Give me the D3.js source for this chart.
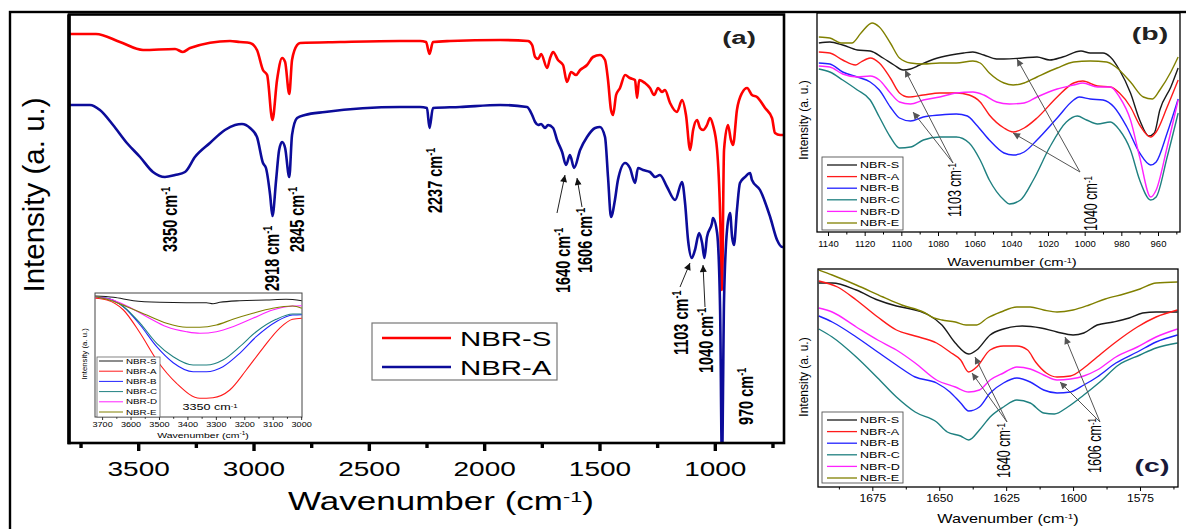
<!DOCTYPE html>
<html>
<head>
<meta charset="utf-8">
<script src="https://cdnjs.cloudflare.com/ajax/libs/d3/7.8.5/d3.min.js"></script>
<style>
  body { margin: 0; background: #fff; }
  svg { display: block; }
  text { font-family: "Liberation Sans", Arial, sans-serif; }
</style>
</head>
<body>
<script>
// ---------- data: [wavenumber, intensity (a.u.)] ----------
// panel (a) full spectra
const specS = [[3800,409],[3683,409],[3579,401],[3479,393],[3340,394],[3306,391],[3275,395],[3102,402],[3059,401],[3015,400],[2985,393],[2959,373],[2941,368],[2918,323],[2898,363],[2876,385],[2863,381],[2845,349],[2833,383],[2811,398],[2798,400],[2625,401],[2365,402],[2278,402],[2252,401],[2237,389],[2222,401],[2148,402],[1931,403],[1810,402],[1792,398],[1779,386],[1766,384],[1753,389],[1727,375],[1714,385],[1701,391],[1680,383],[1658,378],[1641,361],[1623,371],[1602,368],[1584,373],[1554,378],[1528,386],[1498,388],[1476,383],[1463,363],[1450,333],[1441,328],[1428,348],[1411,355],[1389,368],[1368,365],[1346,363],[1337,345],[1328,363],[1303,360],[1281,355],[1263,348],[1246,355],[1229,351],[1216,353],[1194,340],[1164,331],[1142,343],[1125,328],[1107,293],[1094,313],[1077,323],[1064,315],[1051,313],[1034,318],[1021,325],[1008,318],[990,293],[977,230],[969,153],[960,293],[943,318],[930,303],[921,298],[904,333],[882,350],[860,355],[839,348],[817,346],[782,335],[752,325],[739,310],[717,308],[700,308]];
const specA = [[3800,338],[3709,338],[3666,333],[3609,318],[3549,300],[3492,286],[3436,271],[3384,266],[3340,268],[3297,271],[3254,286],[3189,300],[3124,313],[3080,318],[3050,319],[3015,315],[2985,306],[2959,280],[2946,275],[2928,248],[2918,227],[2902,263],[2889,293],[2876,301],[2863,295],[2845,266],[2833,308],[2811,325],[2777,328],[2690,331],[2365,336],[2278,336],[2248,335],[2237,315],[2222,335],[2105,336],[1931,338],[1814,336],[1792,328],[1779,321],[1766,318],[1753,319],[1736,315],[1723,318],[1701,315],[1684,303],[1662,291],[1645,278],[1628,288],[1610,275],[1584,293],[1554,306],[1519,315],[1498,316],[1476,306],[1463,266],[1450,226],[1433,243],[1420,263],[1389,280],[1368,275],[1346,260],[1333,275],[1311,273],[1281,271],[1259,266],[1238,268],[1207,256],[1172,243],[1142,261],[1129,240],[1116,203],[1100,185],[1086,193],[1068,210],[1055,200],[1045,185],[1034,206],[1012,220],[1008,225],[990,210],[977,133],[969,-20],[960,143],[947,213],[934,230],[925,206],[917,198],[904,233],[891,260],[869,266],[847,270],[839,263],[804,253],[760,226],[730,203],[708,196],[700,196]];
const mainNames = ["NBR-S", "NBR-A"];
const mainMajor = [3500, 3000, 2500, 2000, 1500, 1000];
const mainMinor = [3750, 3250, 2750, 2250, 1750, 1250, 750];
const peakLabels = ["3350", "2918", "2845", "2237", "1640", "1606", "1103", "1040", "970"];
const peakAt = [3350, 2918, 2845, 2237, 1640, 1606, 1103, 1040, 970];

// inset of (a): O-H region
const seriesNames = ["NBR-S", "NBR-A", "NBR-B", "NBR-C", "NBR-D", "NBR-E"];
const insS = [[3724,121],[3660,119.7],[3590,116.3],[3497,114.7],[3403,114.3],[3333,114.3],[3310,113.3],[3286,114.7],[3216,116.3],[3123,117],[3053,117.7],[2998,116.3]];
const insA = [[3724,118.7],[3683,117],[3625,107],[3566,83.7],[3508,57],[3438,33.7],[3356,18.7],[3310,19.3],[3251,27],[3193,47],[3135,68.7],[3076,88.7],[3030,97.7],[2998,98.7]];
const insB = [[3724,119.7],[3683,118.7],[3625,110.3],[3566,92],[3508,70.3],[3450,54.3],[3380,45.3],[3333,45.3],[3275,50.3],[3216,63.7],[3158,80.3],[3088,95.3],[3030,102],[2998,102.3]];
const insC = [[3724,119.7],[3683,118.7],[3625,110.3],[3566,93.7],[3508,73.7],[3450,60.3],[3380,52],[3333,52],[3275,57],[3216,70.3],[3158,85.3],[3088,97.7],[3030,103],[2998,103]];
const insD = [[3724,119.7],[3671,117.7],[3613,111],[3543,100.3],[3473,90.3],[3403,85.3],[3356,83.7],[3298,85.3],[3240,90.3],[3170,98.7],[3100,107],[3030,111],[2998,111.3]];
const insE = [[3724,120.3],[3683,117.7],[3613,110.3],[3543,102],[3473,93.7],[3403,89.7],[3356,89.7],[3298,92],[3240,97.7],[3170,103.7],[3100,108.7],[3030,111],[2998,108.7]];
const insTicks = [3700, 3600, 3500, 3400, 3300, 3200, 3100, 3000];

// panel (b): 1150-950 region
const bS = [[1145,189],[1139,190],[1132,187],[1124,182],[1117,181],[1110,174],[1104,167],[1099,162],[1095,163],[1090,167],[1082,173],[1073,177],[1066,179],[1061,180],[1055,177],[1048,173],[1044,173],[1034,174],[1026,175],[1019,172],[1012,175],[1002,181],[997,179],[990,179],[986,175],[981,162],[975,139],[970,112],[965,96],[962,99],[959,122],[953,145],[949,164]];
const bA = [[1145,180],[1139,179],[1132,172],[1125,167],[1122,170],[1117,174],[1112,169],[1106,154],[1101,139],[1096,135],[1088,137],[1079,139],[1070,139],[1063,137],[1057,130],[1052,117],[1044,104],[1039,100],[1033,104],[1026,114],[1015,135],[1006,149],[1001,151],[993,146],[986,145],[981,139],[975,125],[970,107],[964,95],[961,100],[955,125],[949,152]];
const bB = [[1145,169],[1139,168],[1132,160],[1124,155],[1117,150],[1112,142],[1106,125],[1101,114],[1095,111],[1088,115],[1079,117],[1070,118],[1064,116],[1059,107],[1052,92],[1044,79],[1039,77],[1033,80],[1026,92],[1015,114],[1006,132],[1003,135],[997,133],[990,132],[984,125],[977,105],[970,79],[964,67],[961,70],[955,99],[949,133]];
const bC = [[1145,163],[1139,160],[1132,152],[1124,142],[1117,132],[1112,115],[1106,95],[1101,84],[1095,85],[1088,92],[1079,95],[1070,95],[1063,89],[1057,72],[1052,52],[1044,32],[1041,28],[1035,32],[1028,52],[1019,85],[1010,110],[1004,116],[999,112],[993,108],[986,110],[981,102],[975,82],[970,52],[964,32],[961,35],[955,75],[949,119]];
const bD = [[1145,166],[1139,165],[1132,158],[1124,155],[1117,156],[1112,152],[1106,139],[1101,130],[1095,128],[1088,132],[1079,135],[1070,139],[1061,140],[1055,137],[1048,130],[1041,128],[1033,129],[1026,135],[1015,143],[1006,147],[1001,149],[993,145],[986,145],[981,135],[975,112],[970,75],[964,35],[961,42],[955,85],[949,132]];
const bE = [[1145,195],[1139,194],[1133,189],[1127,189],[1122,199],[1116,209],[1112,205],[1106,189],[1101,174],[1095,169],[1088,168],[1079,169],[1070,169],[1061,171],[1057,169],[1052,159],[1044,149],[1039,147],[1033,149],[1026,155],[1015,164],[1006,170],[997,171],[988,170],[983,165],[975,150],[968,135],[963,133],[959,142],[953,160],[949,175]];
const bMajor = [1140, 1120, 1100, 1080, 1060, 1040, 1020, 1000, 980, 960];
const bMinor = [1130, 1110, 1090, 1070, 1050, 1030, 1010, 990, 970, 950];

// panel (c): 1695-1560 region
const cS = [[1695,204],[1690,204],[1681,197],[1673,187],[1666,181],[1659,177],[1654,172],[1649,162],[1644,144],[1639,133],[1636,137],[1631,152],[1626,158],[1619,161],[1612,159],[1606,155],[1600,152],[1596,154],[1591,162],[1585,165],[1579,169],[1574,174],[1569,175],[1561,175]];
const cA = [[1695,206],[1688,200],[1681,187],[1673,170],[1666,157],[1659,151],[1651,144],[1646,135],[1642,127],[1639,115],[1636,120],[1631,137],[1626,141],[1621,141],[1617,137],[1614,125],[1610,114],[1606,110],[1601,111],[1596,119],[1591,130],[1584,145],[1576,160],[1569,170],[1561,177]];
const cB = [[1695,171],[1690,165],[1681,150],[1673,135],[1666,122],[1659,110],[1651,104],[1646,95],[1642,84],[1639,76],[1635,80],[1631,94],[1626,104],[1621,109],[1616,105],[1611,97],[1606,94],[1601,95],[1596,102],[1591,110],[1584,124],[1576,135],[1569,145],[1561,152]];
const cC = [[1695,158],[1690,150],[1681,130],[1673,109],[1666,90],[1659,75],[1651,65],[1647,55],[1642,51],[1639,47],[1635,57],[1631,70],[1626,80],[1621,87],[1616,84],[1611,74],[1607,73],[1602,80],[1596,92],[1590,105],[1583,122],[1575,132],[1569,139],[1561,144]];
const cD = [[1695,179],[1690,175],[1681,160],[1673,147],[1666,137],[1659,124],[1651,107],[1644,100],[1639,95],[1635,97],[1631,107],[1626,114],[1621,120],[1616,118],[1611,112],[1606,107],[1601,108],[1596,111],[1591,117],[1584,130],[1576,140],[1569,150],[1561,158]];
const cE = [[1695,217],[1690,212],[1681,202],[1671,190],[1664,182],[1656,175],[1652,169],[1649,167],[1644,165],[1640,162],[1636,162],[1632,169],[1627,175],[1621,180],[1616,180],[1611,177],[1606,175],[1600,177],[1594,182],[1588,188],[1581,193],[1575,198],[1569,204],[1561,205]];
const cMajor = [1675, 1650, 1625, 1600, 1575];
const cMinor = [1687.5, 1662.5, 1637.5, 1612.5, 1587.5, 1562.5];

// ---------- layout ----------
const W = 1186, H = 529;
const S = 1.4;            // panel (a) of the source figure is stretched horizontally
const colors6 = ["#1a1a1a", "#ff1a1a", "#2222ff", "#1f8080", "#ff22ff", "#808000"];

const svg = d3.select("body").append("svg").attr("width", W).attr("height", H);
const defs = svg.append("defs");

function marker(id, color) {
  defs.append("marker").attr("id", id)
    .attr("viewBox", "0 0 10 10").attr("refX", 10).attr("refY", 5)
    .attr("markerUnits", "userSpaceOnUse")
    .attr("markerWidth", 8).attr("markerHeight", 7).attr("orient", "auto")
    .append("path").attr("d", "M0,0 L10,5 L0,10 z").attr("fill", color);
}
marker("ahk", "#111");
marker("ahg", "#555");

function clip(id, x0, y0, x1, y1) {
  defs.append("clipPath").attr("id", id).append("rect")
    .attr("x", x0).attr("y", y0).attr("width", x1 - x0).attr("height", y1 - y0);
}

// text helper: "|" toggles superscript parts
function label(g, x, y, str, o = {}) {
  const sx = o.sx ?? 1, rot = o.rot ?? 0;
  const t = g.append("text")
    .attr("transform", `translate(${x},${y}) scale(${sx},1)` + (rot ? ` rotate(${rot})` : ""))
    .attr("font-size", o.size || 12)
    .attr("text-anchor", o.anchor || "start")
    .attr("font-weight", o.weight || "normal")
    .attr("fill", o.fill || "#000");
  if (o.family) t.attr("font-family", o.family);
  if (o.dy) t.attr("dy", o.dy);
  str.split("|").forEach((s, i) => {
    const sp = t.append("tspan").text(s);
    if (i % 2) sp.attr("font-size", "62%").attr("baseline-shift", "super");
  });
  return t;
}

function arrow(g, x1, y1, x2, y2, color, mk) {
  g.append("line").attr("x1", x1).attr("y1", y1).attr("x2", x2).attr("y2", y2)
    .attr("stroke", color).attr("stroke-width", 1).attr("marker-end", `url(#${mk})`);
}

function ticks(g, x, y0, vals, len, opt) {
  const ax = d3.axisBottom(x).tickValues(vals).tickSizeInner(len).tickSizeOuter(0)
    .tickPadding(opt.pad || 3).tickFormat(opt.label ? d3.format("d") : "");
  const a = g.append("g").attr("transform", `translate(0,${y0})`).call(ax)
    .attr("font-family", null).attr("font-size", opt.size || 10);
  a.select(".domain").remove();
  a.selectAll(".tick line").attr("stroke", "#000").attr("stroke-width", opt.sw || 1);
  a.selectAll(".tick text").attr("fill", "#000").attr("transform", `scale(${opt.sx || 1},1)`);
  return a;
}

function spectra(g, x, y, list, cols, sw, clipId) {
  const line = d3.line().x(d => x(d[0])).y(d => y(d[1])).curve(d3.curveMonotoneX);
  const gg = g.append("g").attr("clip-path", `url(#${clipId})`);
  list.forEach((s, i) => {
    gg.append("path").datum(s).attr("d", line).attr("fill", "none")
      .attr("stroke", cols[i]).attr("stroke-width", sw).attr("stroke-linejoin", "round");
  });
}

// outer frame
svg.append("rect").attr("x", 10).attr("y", 12).attr("width", W).attr("height", H)
  .attr("fill", "none").attr("stroke", "#000").attr("stroke-width", 2.4);

// ================= panel (a) =================
const A = { l: 69, r: 784, t: 14.5, b: 443 };
const ga = svg.append("g");
const xa = d3.scaleLinear().domain([3800, 700]).range([A.l, A.r]);
const ya = d3.scaleLinear().domain([0, 428.5]).range([A.b, A.t]);
clip("clipA", A.l, A.t, A.r, A.b);

spectra(ga, xa, ya, [specS, specA], ["#ff0000", "#0c0c9a"], 2.6, "clipA");

ga.append("rect").attr("x", A.l).attr("y", A.t).attr("width", A.r - A.l).attr("height", A.b - A.t)
  .attr("fill", "none").attr("stroke", "#000").attr("stroke-width", 2.6);
ga.append("line").attr("x1", A.l).attr("x2", A.l).attr("y1", A.t).attr("y2", A.b + 1.3)
  .attr("stroke", "#000").attr("stroke-width", 3.6);

ticks(ga, xa, A.b, mainMinor, 5, { sw: 3.4 });
ticks(ga, xa, A.b, mainMajor, 8, { label: true, size: 20, sx: S, pad: 11, sw: 3.4 });

label(ga, 441, 510, "Wavenumber (cm|-1|)", { size: 25, sx: S, anchor: "middle" });
label(svg, 44, 195, "Intensity (a. u.)", { size: 29.5, rot: -90, anchor: "middle" });
label(ga, 739, 44, "(a)", { size: 19, sx: 1.45, anchor: "middle", weight: "bold",
  family: '"Liberation Serif","Times New Roman",serif', fill: "#222" });

// peak annotations
const peakPos = [[-3, 252], [-1, 291], [8, 252], [5.5, 213], [-4, 293], [10, 273], [-10, 355], [0, 373], [24, 425]];
peakLabels.forEach((p, i) => {
  label(ga, xa(peakAt[i]) + peakPos[i][0], peakPos[i][1], `${p} cm|-1`,
    { size: 14.5, sx: S, rot: -90, weight: "bold", dy: "0.35em" });
});
[[557, 213, 565, 175], [582, 207, 577, 178], [680, 287, 690, 263], [705, 307, 703, 265]]
  .forEach(a => arrow(ga, a[0], a[1], a[2], a[3], "#222", "ahk"));

// legend (a)
const lg = ga.append("g");
lg.append("rect").attr("x", 372).attr("y", 323).attr("width", 185).attr("height", 57)
  .attr("fill", "#fff").attr("stroke", "#777").attr("stroke-width", 1.2);
mainNames.forEach((n, i) => {
  const yy = 338 + i * 29;
  lg.append("line").attr("x1", 382).attr("x2", 451).attr("y1", yy).attr("y2", yy)
    .attr("stroke", i ? "#0c0c9a" : "#ff0000").attr("stroke-width", 2.4);
  label(lg, 460, yy + 8, n, { size: 21, sx: S });
});

// inset
const I = { l: 95, r: 302, t: 293, b: 417 };
const gi = svg.append("g");
const xi = d3.scaleLinear().domain([3725, 2997]).range([I.l, I.r]);
const yi = d3.scaleLinear().domain([0, 124]).range([I.b, I.t]);
clip("clipI", I.l, I.t, I.r, I.b);
gi.append("rect").attr("x", I.l).attr("y", I.t).attr("width", I.r - I.l).attr("height", I.b - I.t)
  .attr("fill", "#fff").attr("stroke", "#444").attr("stroke-width", 1);
spectra(gi, xi, yi, [insS, insA, insB, insC, insD, insE], colors6, 1.1, "clipI");
ticks(gi, xi, I.b, d3.range(3650, 2990, -100), 1.8, { sw: 0.8 });
ticks(gi, xi, I.b, insTicks, 3, { label: true, size: 6.5, sx: S, pad: 2.5, sw: 0.8 });
label(gi, 203, 437.5, "Wavenumber (cm|-1|)", { size: 7.5, sx: S, anchor: "middle" });
label(gi, 87, 354, "Intensity (a. u.)", { size: 7.8, rot: -90, anchor: "middle" });
label(gi, 210, 410, "3350 cm|-1", { size: 9, sx: S, anchor: "middle" });
const il = gi.append("g");
il.append("rect").attr("x", 97).attr("y", 357).attr("width", 63).attr("height", 60)
  .attr("fill", "#fff").attr("stroke", "#666").attr("stroke-width", 0.8);
seriesNames.forEach((n, i) => {
  const yy = 361 + i * 10.2;
  il.append("line").attr("x1", 99).attr("x2", 123).attr("y1", yy).attr("y2", yy)
    .attr("stroke", colors6[i]).attr("stroke-width", 1);
  label(il, 126, yy + 2.5, n, { size: 7, sx: S });
});

// ================= panel (b) =================
const B = { l: 817, r: 1180, t: 13, b: 232 };
const gb = svg.append("g");
const xb = d3.scaleLinear().domain([1146, 948]).range([B.l, B.r]);
const yb = d3.scaleLinear().domain([0, 219]).range([B.b, B.t]);
clip("clipB", B.l, B.t, B.r, B.b);
spectra(gb, xb, yb, [bS, bA, bB, bC, bD, bE], colors6, 1.4, "clipB");
gb.append("rect").attr("x", B.l).attr("y", B.t).attr("width", B.r - B.l).attr("height", B.b - B.t)
  .attr("fill", "none").attr("stroke", "#000").attr("stroke-width", 1.3);
ticks(gb, xb, B.b, bMinor, 2.5, {});
ticks(gb, xb, B.b, bMajor, 4, { label: true, size: 9.5, pad: 4 });
label(gb, 1012, 266, "Wavenumber (cm|-1|)", { size: 11, sx: 1.35, anchor: "middle" });
label(gb, 807.5, 120, "Intensity (a. u.)", { size: 12, rot: -90, anchor: "middle" });
label(gb, 1150, 40, "(b)", { size: 19, sx: 1.5, anchor: "middle", weight: "bold",
  family: '"Liberation Serif","Times New Roman",serif', fill: "#222" });
label(gb, 955, 217, "1103 cm|-1", { size: 12.5, sx: 1.45, rot: -90, dy: "0.35em" });
label(gb, 1091, 231, "1040 cm|-1", { size: 12.5, sx: 1.45, rot: -90, dy: "0.35em" });
[[953, 163, 905, 70], [953, 163, 913, 112], [1080, 172, 1017, 59], [1080, 172, 1013, 133]]
  .forEach(a => arrow(gb, a[0], a[1], a[2], a[3], "#555", "ahg"));

function smallLegend(g, x0, y0, h) {
  g.append("rect").attr("x", x0).attr("y", y0).attr("width", 81).attr("height", h)
    .attr("fill", "#fff").attr("stroke", "#555").attr("stroke-width", 0.9);
  seriesNames.forEach((n, i) => {
    const yy = y0 + 8 + i * 11.6;
    g.append("line").attr("x1", x0 + 5).attr("x2", x0 + 35).attr("y1", yy).attr("y2", yy)
      .attr("stroke", colors6[i]).attr("stroke-width", 1.3);
    label(g, x0 + 38, yy + 3.2, n, { size: 9, sx: 1.4 });
  });
}
smallLegend(gb, 822, 157, 73);

// ================= panel (c) =================
const C = { l: 818, r: 1178, t: 269, b: 487 };
const gc = svg.append("g");
const xc = d3.scaleLinear().domain([1695.3, 1560.8]).range([C.l, C.r]);
const yc = d3.scaleLinear().domain([0, 218]).range([C.b, C.t]);
clip("clipC", C.l, C.t, C.r, C.b);
spectra(gc, xc, yc, [cS, cA, cB, cC, cD, cE], colors6, 1.4, "clipC");
gc.append("rect").attr("x", C.l).attr("y", C.t).attr("width", C.r - C.l).attr("height", C.b - C.t)
  .attr("fill", "none").attr("stroke", "#000").attr("stroke-width", 1.3);
ticks(gc, xc, C.b, cMinor, 2.5, {});
ticks(gc, xc, C.b, cMajor, 4, { label: true, size: 10.5, sx: 1.15, pad: 4 });
label(gc, 1008, 523, "Wavenumber (cm|-1|)", { size: 12, sx: 1.35, anchor: "middle" });
label(gc, 807.5, 377, "Intensity (a. u.)", { size: 12, rot: -90, anchor: "middle" });
label(gc, 1152, 472, "(c)", { size: 19, sx: 1.5, anchor: "middle", weight: "bold",
  family: '"Liberation Serif","Times New Roman",serif', fill: "#1a1a3a" });
label(gc, 1004, 478, "1640 cm|-1", { size: 12.5, sx: 1.45, rot: -90, dy: "0.35em" });
label(gc, 1095, 473, "1606 cm|-1", { size: 12.5, sx: 1.45, rot: -90, dy: "0.35em" });
[[1007, 422, 975, 357], [1007, 422, 972, 373], [1100, 422, 1065, 337], [1100, 422, 1060, 382]]
  .forEach(a => arrow(gc, a[0], a[1], a[2], a[3], "#555", "ahg"));
smallLegend(gc, 822, 412, 71);
</script>
</body>
</html>
